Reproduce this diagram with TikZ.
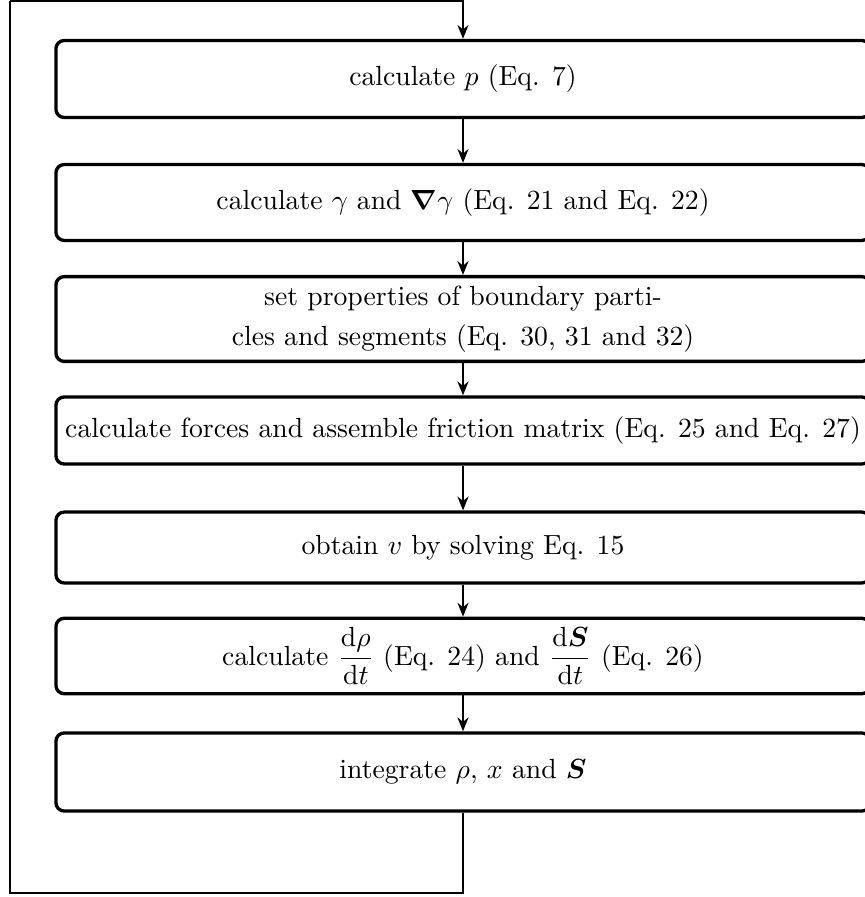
\documentclass[tikz,border=0pt]{standalone}
\usepackage{amsmath}
\usetikzlibrary{arrows.meta}
\tikzset{
  stepbox/.style={draw, very thick, rounded corners=3pt, minimum width=293.9pt, align=center},
  arr/.style={thick, -{Stealth[length=5pt,width=4pt]}}
}
\begin{document}
\begin{tikzpicture}[x=0.361pt, y=-0.361pt]
\useasboundingbox (0,0) rectangle (865,897);
% one time step
\node[stepbox, minimum height=27.8pt] (pres) at (463,79) {calculate $p$ (Eq. 7)};
\node[stepbox, minimum height=27.4pt] (gam) at (463,202.5) {calculate $\gamma$ and $\boldsymbol{\nabla}\gamma$ (Eq. 21 and Eq. 22)};
\node[stepbox, minimum height=27.4pt] (bnd) at (463,319) {set properties of boundary parti-\\[2.4pt]cles and segments (Eq. 30, 31 and 32)};
\node[stepbox, minimum height=24.2pt] (force) at (463,430.5) {calculate forces and assemble friction matrix (Eq. 25 and Eq. 27)};
\node[stepbox, minimum height=25.6pt] (vel) at (463,547.5) {obtain $v$ by solving Eq. 15};
\node[stepbox, minimum height=26pt] (rate) at (463,656) {calculate $\dfrac{\mathrm{d}\rho}{\mathrm{d}t}$ (Eq. 24) and $\dfrac{\mathrm{d}\boldsymbol{S}}{\mathrm{d}t}$ (Eq. 26)};
\node[stepbox, minimum height=28.2pt] (integ) at (463,772) {integrate $\rho$, $x$ and $\boldsymbol{S}$};
\draw[arr] (pres) -- (gam);
\draw[arr] (gam) -- (bnd);
\draw[arr] (bnd) -- (force);
\draw[arr] (force) -- (vel);
\draw[arr] (vel) -- (rate);
\draw[arr] (rate) -- (integ);

% back to the start
\coordinate (lb) at (10,893);
\coordinate (lt) at (10,1);
\draw[thick] (integ.south) |- (lb) -- (lt);
\draw[arr] (lt) -| (pres.north);
\end{tikzpicture}
\end{document}
